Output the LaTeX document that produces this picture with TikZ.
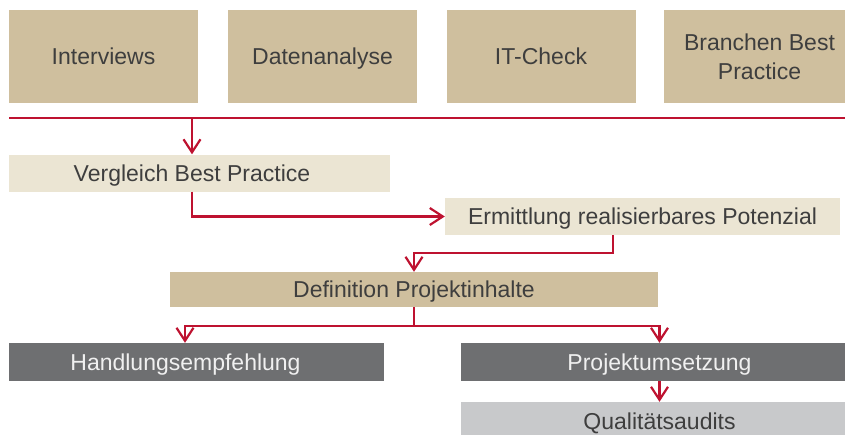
\documentclass[tikz,border=0pt]{standalone}
\usepackage{fontspec}
\setmainfont{Liberation Sans}
\usetikzlibrary{arrows.meta}

\definecolor{boxtan}{RGB}{207,191,158}
\definecolor{boxcream}{RGB}{235,229,211}
\definecolor{boxdark}{RGB}{110,111,113}
\definecolor{boxlight}{RGB}{200,201,203}
\definecolor{flowred}{RGB}{190,18,48}
\definecolor{textgray}{RGB}{62,62,62}

\begin{document}
\begin{tikzpicture}[x=1pt,y=-1pt,
    box/.style={rectangle,inner sep=0pt,text=textgray,text height=16.5pt,text depth=0pt,
        font=\fontsize{23}{29}\selectfont},
    topbox/.style={box,fill=boxtan,minimum width=189pt,minimum height=93pt,align=center},
    creambox/.style={box,fill=boxcream,minimum height=37pt},
    tanbox/.style={box,fill=boxtan,minimum height=35pt},
    darkbox/.style={box,fill=boxdark,text=white!94!black,minimum height=38pt},
    lightbox/.style={box,fill=boxlight,minimum height=38pt},
    flow/.style={draw=flowred,line width=2.2pt},
    >={Straight Barb[length=13pt,width=17pt]}]

\useasboundingbox (0,0) rectangle (845,434);

% sources
\node[topbox] (interviews) at (103.5,56.5) {Interviews};
\node[topbox] (daten) at (322.5,56.5) {Datenanalyse};
\node[topbox] (itcheck) at (541,56.5) {IT-Check};
\node[topbox,minimum width=191pt,text height=45.5pt] (branche) at (759.5,56.5)
    {Branchen Best\\Practice};

% bus line under the sources
\coordinate (busL) at (9,118);
\coordinate (busR) at (860,118);
\draw[flow] (busL) -- (busR);

% steps
\node[creambox,minimum width=381pt] (vgl) at (199.5,173)
    {Vergleich Best Practice\hspace*{15pt}};
\node[creambox,minimum width=395pt] (erm) at (642.5,216.5)
    {Ermittlung realisierbares Potenzial};
\node[tanbox,minimum width=488pt] (def) at (414,289.5)
    {Definition Projektinhalte};
\node[darkbox,minimum width=375pt] (hand) at (196.5,362)
    {Handlungsempfehlung\hspace*{22pt}};
\node[darkbox,minimum width=397pt] (proj) at (659.5,362)
    {Projektumsetzung};
\node[lightbox,minimum width=397pt] (qual) at (659.5,421)
    {Qualitätsaudits};

% bus to Vergleich, Vergleich to Ermittlung
\draw[flow,->] ([xshift=-7.5pt]vgl.north |- busL) -- ([xshift=-7.5pt]vgl.north);
\draw[flow,->] ([xshift=-7.5pt]vgl.south) |- (erm.west);

% Ermittlung to Definition
\draw[flow,->] ([xshift=-29.5pt]erm.south) -- ++(0,18) -| (def.north);

% Definition splits into two
\draw[flow,->] (def.south) -- ++(0,19) -| ([xshift=-11.5pt]hand.north);
\draw[flow,->] (def.south) -- ++(0,19) -| (proj.north);

% Projektumsetzung to audits
\draw[flow,->] (proj.south) -- (qual.north);

\end{tikzpicture}
\end{document}
